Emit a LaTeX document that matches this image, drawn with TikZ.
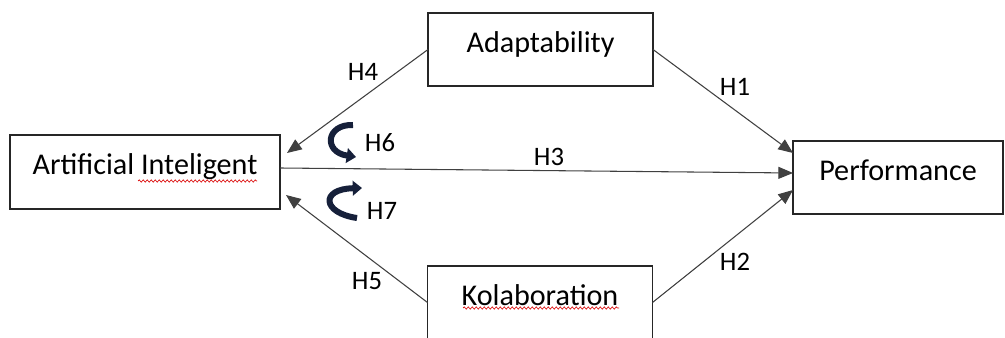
\documentclass[tikz,border=0pt]{standalone}
\usepackage{fontspec}
\setmainfont{Carlito}
\usetikzlibrary{arrows.meta,decorations.pathmorphing}

\begin{document}
\begin{tikzpicture}[x=0.75pt, y=-0.75pt,
		box/.style={draw=black!85, line width=1.4pt, inner sep=0pt, outer sep=0pt, minimum height=55pt, text height=15pt, text depth=11pt, font=\fontsize{22.6}{26}\selectfont},
		link/.style={draw=black!75, line width=0.8pt, -{Triangle[length=11pt,width=9pt]}},
		lab/.style={font=\fontsize{20}{24}\selectfont, inner sep=0pt},
		turn/.style={draw={rgb,255:red,22;green,32;blue,58}, line width=4.5pt, -{Triangle[length=7pt,width=11pt]}},
		squig/.style={red!85!black, line width=0.5pt, decorate, decoration={snake, amplitude=0.8pt, segment length=3pt}}]
				\useasboundingbox (0,0) rectangle (1005,338);
				
				% the four boxes
				\node[box, minimum width=202.5pt] (ai) at (145,172) {Artificial Inteligent};
				\node[box, minimum width=168.75pt] (adapt) at (540.5,49.5) {Adaptability};
				\node[box, minimum width=168.75pt] (kolab) at (540,302.5) {Kolaboration};
				\node[box, minimum width=157.5pt] (perf) at (898,177.5) {Performance};
				
				\draw[squig] (138,181) -- (257,181);
				\draw[squig] (463,308) -- (619,308);
				
				% paths
				\draw[link] (adapt.west) -- ([shift={(7,-19)}]ai.east);
				\draw[link] (kolab.west) -- ([shift={(6,23)}]ai.east);
				\draw[link] ([shift={(0,-4)}]ai.east) -- ([shift={(0,-4.5)}]perf.west);
				\draw[link] (adapt.east) -- ([shift={(0,-24.5)}]perf.west);
				\draw[link] (kolab.east) -- ([shift={(0,12.5)}]perf.west);
				
				\foreach \x/\y/\h in {363/72/H4, 735/87/H1, 549/157/H3, 380/143/H6, 382/211/H7, 367/281/H5, 735/262/H2}
					\node[lab] (\h) at (\x,\y) {\h};
					
				% moderating turns
				\draw[turn] (353,125) .. controls (326,124) and (323,152) .. (356,157);
				\draw[turn] (357,218) .. controls (322,213) and (320,189) .. (362,188);
			\end{tikzpicture}
\end{document}
